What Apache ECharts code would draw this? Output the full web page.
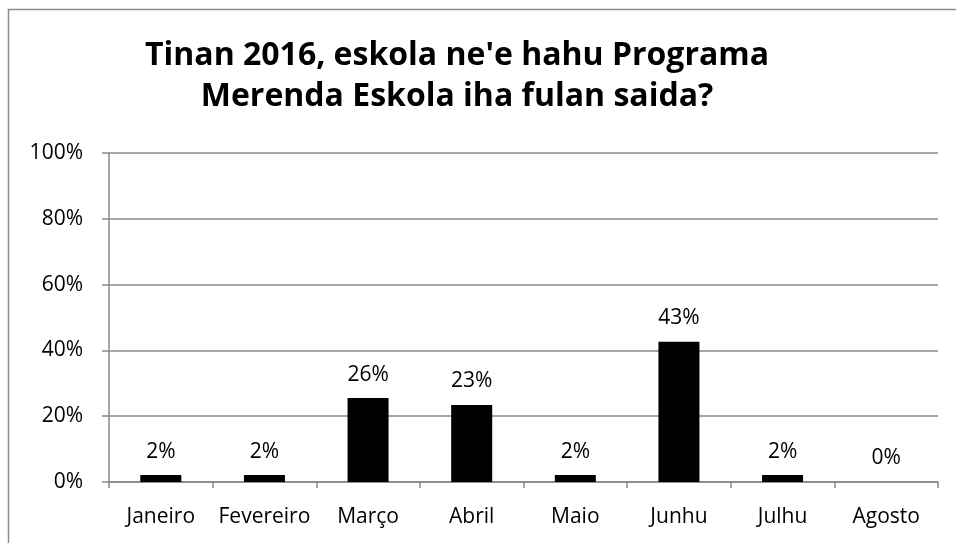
<!DOCTYPE html>
<html>
<head>
<meta charset="utf-8">
<script src="https://cdn.jsdelivr.net/npm/echarts@6/dist/echarts.min.js"></script>
<style>
  html, body { margin: 0; padding: 0; background: #fff; }
  #chart { width: 956px; height: 543px; }
</style>
</head>
<body>
<div id="chart"></div>
<script>
// fulan sira (meses)
var months = ["Janeiro", "Fevereiro", "Março", "Abril", "Maio", "Junhu", "Julhu", "Agosto"];
// persentajen eskola (%)
var shares = [2.1, 2.1, 25.5, 23.4, 2.1, 42.6, 2.1, 0];
var yTicks = [0, 20, 40, 60, 80, 100];

var font = "'Open Sans', Lato, sans-serif";
var chart = echarts.init(document.getElementById("chart"));

var option = {
    animation: false,
    backgroundColor: "#ffffff",
    title: {
        text: "Tinan 2016, eskola ne'e hahu Programa\nMerenda Eskola iha fulan saida?",
        left: 452,
        textAlign: "center",
        top: 30,
        textStyle: {
            fontFamily: font,
            fontWeight: "bold",
            fontSize: 32,
            lineHeight: 41,
            color: "#000"
        }
    },
    graphic: [
        {
            type: "polyline",
            shape: { points: [[8.5, 543], [8.5, 9.5], [956, 9.5]] },
            style: { stroke: "#8c8c8c", lineWidth: 1.5, fill: null }
        }
    ],
    grid: { left: 109, right: 18, top: 153, bottom: 61 },
    xAxis: {
        type: "category",
        data: months,
        axisLine: { lineStyle: { color: "#888", width: 1.5 } },
        axisTick: { show: true, alignWithLabel: false, length: 6, lineStyle: { color: "#888", width: 1.5 } },
        axisLabel: { color: "#000", fontFamily: font, fontSize: 21, margin: 25, interval: 0, hideOverlap: false }
    },
    yAxis: {
        type: "value",
        min: yTicks[0],
        max: yTicks[yTicks.length - 1],
        interval: 20,
        axisLine: { show: true, lineStyle: { color: "#888", width: 1.5 } },
        axisTick: { show: true, length: 7, lineStyle: { color: "#888", width: 1.5 } },
        splitLine: { show: true, lineStyle: { color: "#888", width: 1.5 } },
        axisLabel: {
            color: "#000",
            fontFamily: font,
            fontSize: 21,
            margin: 26,
            formatter: function (v) { return v + "%"; }
        }
    },
    series: [
        {
            type: "bar",
            data: shares,
            barWidth: 41,
            itemStyle: { color: "#000" },
            label: {
                show: true,
                position: "top",
                distance: 13,
                color: "#000",
                fontFamily: font,
                fontSize: 21,
                formatter: function (p) { return Math.round(p.value) + "%"; }
            }
        }
    ]
};

chart.setOption(option);
</script>
</body>
</html>
